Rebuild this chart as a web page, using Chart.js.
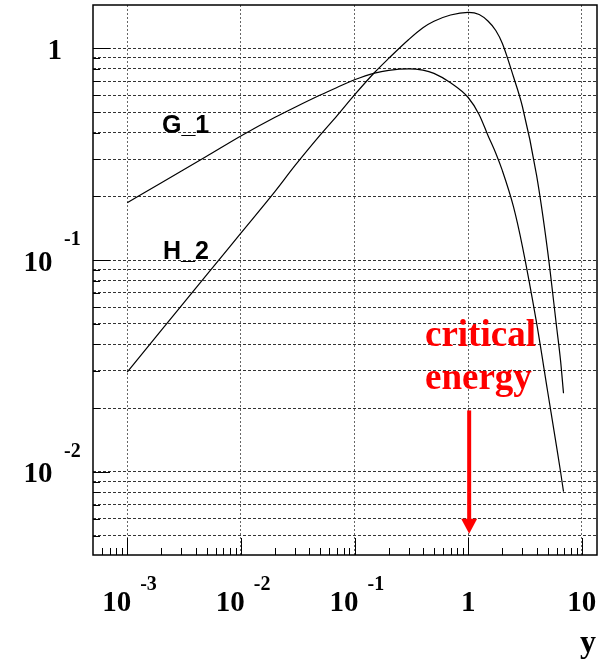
<!DOCTYPE html>
<html>
<head>
<meta charset="utf-8">
<script src="https://cdn.jsdelivr.net/npm/chart.js@4.4.1/dist/chart.umd.min.js"></script>
<style>
  html, body { margin: 0; padding: 0; background: #fff; }
  #wrap { width: 601px; height: 663px; }
</style>
</head>
<body>
<div id="wrap"><canvas id="graf" width="601" height="663"></canvas></div>
<script>
// vrednosti y (vodoravna os), odčitane s slike
const yPoints  = [0.001, 0.002, 0.005, 0.01, 0.02, 0.03, 0.05, 0.07, 0.1, 0.15, 0.2, 0.3, 0.4, 0.5, 0.7, 1, 1.25, 1.5, 1.75, 2, 2.5, 3, 4, 5, 6, 6.5, 6.9];
const g1Values = [0.1866, 0.2317, 0.3091, 0.3855, 0.4723, 0.5271, 0.6018, 0.6530, 0.7100, 0.7637, 0.7873, 0.8001, 0.7882, 0.761, 0.687, 0.5856, 0.4858, 0.3854, 0.3196, 0.2643, 0.1793, 0.1162, 0.05047, 0.02402, 0.01311, 0.01001, 0.00806];
const h2Values = [0.0296, 0.0467, 0.0851, 0.134, 0.211, 0.2797, 0.390, 0.480, 0.6026, 0.7686, 0.896, 1.100, 1.250, 1.341, 1.436, 1.477, 1.444, 1.341, 1.214, 1.054, 0.7358, 0.5311, 0.2514, 0.1106, 0.04831, 0.0335, 0.0235];

// obseg osi
const xMin = 5.0e-4, xMax = 13.6;
const yMin = 0.00405, yMax = 1.601;

// oznake na oseh (osnova, eksponent)
const xTickValues = [0.001, 0.01, 0.1, 1, 10];
const xTickLabels = [["10", "-3"], ["10", "-2"], ["10", "-1"], ["1", ""], ["10", ""]];
const yTickValues = [0.01, 0.1, 1];
const yTickLabels = [["10", "-2"], ["10", "-1"], ["1", ""]];

// puščica za kritično energijo
const arrowX = 1, arrowTop = 0.0195, arrowTip = 0.0051;

// vse vmesne vrednosti 1..9 x 10^k znotraj obsega
function logTicks(min, max) {
  const out = [];
  for (let e = Math.floor(Math.log10(min)); e <= Math.ceil(Math.log10(max)); e++) {
    for (let m = 1; m <= 9; m++) {
      const v = +(m * Math.pow(10, e)).toPrecision(6);
      if (v > min && v < max) out.push(v);
    }
  }
  return out;
}
const xAllTicks = logTicks(xMin, xMax);
const yAllTicks = logTicks(yMin, yMax);
const isDecade = v => Math.abs(Math.log10(v) - Math.round(Math.log10(v))) < 1e-6;

const okvir = {
  id: 'okvir',
  afterDraw(chart) {
    const {ctx, chartArea: a, scales: {x, y}} = chart;
    ctx.save();

    // kljukice
    ctx.strokeStyle = '#000';
    ctx.lineWidth = 1;
    ctx.setLineDash([]);
    xAllTicks.forEach(v => {
      const px = Math.round(x.getPixelForValue(v)) + 0.5;
      const len = isDecade(v) ? 17 : 7;
      ctx.beginPath(); ctx.moveTo(px, a.bottom); ctx.lineTo(px, a.bottom - len); ctx.stroke();
    });
    yAllTicks.forEach(v => {
      const py = Math.round(y.getPixelForValue(v)) + 0.5;
      const len = isDecade(v) ? 17 : 7;
      ctx.beginPath(); ctx.moveTo(a.left, py); ctx.lineTo(a.left + len, py); ctx.stroke();
    });

    // okvir
    ctx.lineWidth = 1.5;
    ctx.strokeRect(a.left, a.top, a.right - a.left, a.bottom - a.top);

    // oznake x osi
    ctx.fillStyle = '#000';
    ctx.textBaseline = 'alphabetic';
    xTickValues.forEach((v, i) => {
      const px = x.getPixelForValue(v);
      const [base, exp] = xTickLabels[i];
      ctx.font = 'bold 29px "Liberation Serif"';
      if (exp) {
        ctx.textAlign = 'center';
        ctx.fillText(base, px - 10.5, 611);
        ctx.font = 'bold 20px "Liberation Serif"';
        ctx.textAlign = 'left';
        ctx.fillText(exp, px + 13, 590);
      } else {
        ctx.textAlign = 'center';
        ctx.fillText(base, px, 611);
      }
    });

    // oznake y osi
    yTickValues.forEach((v, i) => {
      const py = y.getPixelForValue(v);
      const [base, exp] = yTickLabels[i];
      ctx.font = 'bold 29px "Liberation Serif"';
      ctx.textAlign = 'right';
      if (exp) {
        ctx.fillText(base, 52.5, py + 10.5);
        ctx.font = 'bold 20px "Liberation Serif"';
        ctx.textAlign = 'left';
        ctx.fillText(exp, 64, py - 15);
      } else {
        ctx.fillText(base, 62, py + 10.5);
      }
    });

    // naslov osi
    ctx.font = 'bold 32px "Liberation Serif"';
    ctx.textAlign = 'right';
    ctx.fillText('y', 596, 652);

    // imena krivulj
    ctx.font = 'bold 25px "Liberation Sans"';
    ctx.textAlign = 'left';
    ctx.fillText('G_1', 162, 133);
    ctx.fillText('H_2', 163, 259);

    // kritična energija
    ctx.fillStyle = '#ff0000';
    ctx.strokeStyle = '#ff0000';
    ctx.font = 'bold 37px "Liberation Serif"';
    ctx.fillText('critical', 425, 346);
    ctx.fillText('energy', 425, 389);

    const ax = x.getPixelForValue(arrowX) + 1;
    const aTop = y.getPixelForValue(arrowTop);
    const aTip = y.getPixelForValue(arrowTip);
    ctx.lineWidth = 4;
    ctx.beginPath(); ctx.moveTo(ax, aTop); ctx.lineTo(ax, aTip - 12); ctx.stroke();
    ctx.beginPath();
    ctx.moveTo(ax - 8, aTip - 15);
    ctx.lineTo(ax + 8, aTip - 15);
    ctx.lineTo(ax, aTip);
    ctx.closePath();
    ctx.fill();

    ctx.restore();
  }
};

const ctx = document.getElementById('graf').getContext('2d');

new Chart(ctx, {
  type: 'line',
  data: {
    datasets: [
      {
        label: 'G_1',
        data: yPoints.map((v, i) => ({x: v, y: g1Values[i]})),
        borderColor: '#000',
        borderWidth: 1.2,
        pointRadius: 0,
        cubicInterpolationMode: 'monotone',
        fill: false,
      },
      {
        label: 'H_2',
        data: yPoints.map((v, i) => ({x: v, y: h2Values[i]})),
        borderColor: '#000',
        borderWidth: 1.2,
        pointRadius: 0,
        cubicInterpolationMode: 'monotone',
        fill: false,
      },
    ],
  },
  options: {
    responsive: false,
    animation: false,
    layout: { padding: { left: 0, top: 5, right: 4, bottom: 0 } },
    plugins: {
      legend: { display: false },
      tooltip: { enabled: false },
    },
    scales: {
      x: {
        type: 'logarithmic',
        min: xMin,
        max: xMax,
        afterBuildTicks: s => { s.ticks = xTickValues.map(v => ({value: v})); },
        afterFit: s => { s.height = 108; },
        ticks: { display: false },
        grid: { color: '#666', lineWidth: 1, drawTicks: false },
        border: { display: false, dash: [2, 2] },
      },
      y: {
        type: 'logarithmic',
        min: yMin,
        max: yMax,
        afterBuildTicks: s => { s.ticks = yAllTicks.map(v => ({value: v})); },
        afterFit: s => { s.width = 93; },
        ticks: { display: false },
        grid: { color: '#333', lineWidth: 1, drawTicks: false },
        border: { display: false, dash: [3, 2] },
      },
    },
  },
  plugins: [okvir],
});
</script>
</body>
</html>
